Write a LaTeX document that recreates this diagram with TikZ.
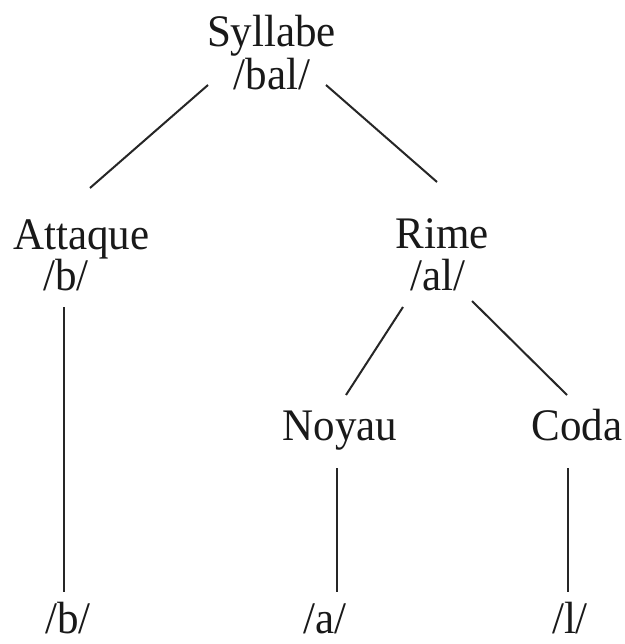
\documentclass[tikz,border=0pt]{standalone}
\usepackage{fontspec}
\setmainfont{Liberation Serif}
\newcommand{\tallt}[1]{\scalebox{1}[1.05]{#1}}
\begin{document}
\begin{tikzpicture}[x=1pt,y=-1pt,
  lbl/.style={anchor=base,inner sep=0pt,font=\fontsize{43}{50}\selectfont,text=black!90},
  edge/.style={line width=2pt,draw=black!85}]
\useasboundingbox (0,0) rectangle (624,644);
\fill[white] (0,0) rectangle (624,644);
% labels
\node[lbl] (syl)  at (271.5,47) {\tallt{Syllabe}};
\node[lbl] (sylp) at (272,90) {\tallt{/bal/}};
\node[lbl] (att)  at (81.5,249) {\tallt{Attaque}};
\node[lbl] (attp) at (66,290) {\tallt{/b/}};
\node[lbl] (rim)  at (442,248) {\tallt{Rime}};
\node[lbl] (rimp) at (438,290) {\tallt{/al/}};
\node[lbl] (noy)  at (340,440) {\tallt{Noyau}};
\node[lbl] (cod)  at (577,440) {\tallt{Coda}};
\node[lbl] (bb)   at (68,633) {\tallt{/b/}};
\node[lbl] (ba)   at (325,633) {\tallt{/a/}};
\node[lbl] (bl)   at (570,633) {\tallt{/l/}};
% connector ends
\coordinate (s1) at (208,85);  \coordinate (a1) at (90,188);
\coordinate (s2) at (326,85);  \coordinate (r1) at (437,182);
\coordinate (a2) at (64,307);  \coordinate (b1) at (64,592);
\coordinate (r2) at (403,307); \coordinate (n1) at (346,395);
\coordinate (r3) at (472,301); \coordinate (c1) at (567,395);
\coordinate (n2) at (337,468); \coordinate (a3) at (337,592);
\coordinate (c2) at (568,468); \coordinate (l3) at (568,592);
\draw[edge] (s1) -- (a1);
\draw[edge] (s2) -- (r1);
\draw[edge] (a2) -- (b1);
\draw[edge] (r2) -- (n1);
\draw[edge] (r3) -- (c1);
\draw[edge] (n2) -- (a3);
\draw[edge] (c2) -- (l3);
\end{tikzpicture}
\end{document}
